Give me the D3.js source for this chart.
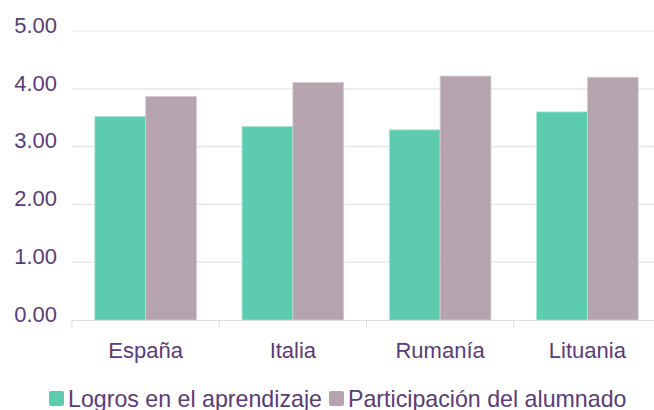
<!DOCTYPE html>
<html lang="es">
<head>
  <meta charset="utf-8">
  <script src="https://d3js.org/d3.v7.min.js"></script>
  <style>
    body { margin: 0; background: #fff; }
    text { font-family: "Liberation Sans", Arial, sans-serif; fill: #5a3c76; }
  </style>
</head>
<body>
<svg width="654" height="410"></svg>
<script>
  var paises = ["España", "Italia", "Rumanía", "Lituania"];
  var series = ["Logros en el aprendizaje", "Participación del alumnado"];
  var logros = [3.52, 3.35, 3.29, 3.60];
  var participacion = [3.87, 4.11, 4.22, 4.20];
  var yTicks = [0, 1, 2, 3, 4, 5];
  var colores = ["#5ccbb0", "#b5a4ad"];

  var svg = d3.select("svg");
  var mLeft = 72, mRight = 661, mTop = 31, mBottom = 320;

  var x = d3.scaleBand().domain(paises).range([mLeft, mRight]).paddingInner(0.31).paddingOuter(0.155);
  var x0 = d3.scaleBand().domain(paises).range([mLeft, mRight]);
  var xs = d3.scaleBand().domain(series).range([0, x.bandwidth()]);
  var y = d3.scaleLinear().domain([0, 5]).range([mBottom, mTop]);

  // grid
  svg.append("g").selectAll("line").data(yTicks.slice(1)).enter().append("line")
    .attr("x1", mLeft).attr("x2", 654)
    .attr("y1", function(d) { return y(d); }).attr("y2", function(d) { return y(d); })
    .attr("stroke", "#e5e3e6").attr("stroke-width", 1.2);

  // y labels
  svg.append("g").selectAll("text").data(yTicks).enter().append("text")
    .attr("x", 57).attr("y", function(d) { return y(d) - 4; })
    .attr("text-anchor", "end").attr("dominant-baseline", "middle")
    .style("font-size", "22px")
    .text(function(d) { return d3.format(".2f")(d); });

  // bars
  var g = svg.append("g").selectAll("g").data(paises).enter().append("g")
    .attr("transform", function(d) { return "translate(" + x(d) + ",0)"; });
  [logros, participacion].forEach(function(vals, s) {
    g.append("rect")
      .attr("x", xs(series[s]))
      .attr("width", xs.bandwidth())
      .attr("y", function(d, i) { return y(vals[i]); })
      .attr("height", function(d, i) { return mBottom - y(vals[i]); })
      .attr("fill", colores[s])
      .attr("stroke", s ? "#d6cbd1" : "#a9e4d5").attr("stroke-width", 0.8);
  });

  // x axis
  var ax = svg.append("g");
  ax.append("line").attr("x1", mLeft).attr("x2", 654).attr("y1", mBottom + 0.5).attr("y2", mBottom + 0.5)
    .attr("stroke", "#dedede");
  ax.selectAll("line.t").data(paises).enter().append("line").attr("class", "t")
    .attr("x1", function(d) { return x0(d); }).attr("x2", function(d) { return x0(d); })
    .attr("y1", mBottom).attr("y2", mBottom + 8).attr("stroke", "#dedede");
  ax.selectAll("text").data(paises).enter().append("text")
    .attr("x", function(d) { return x0(d) + x0.bandwidth() / 2; })
    .attr("y", 358).attr("text-anchor", "middle")
    .style("font-size", "22px")
    .text(function(d) { return d; });

  // legend
  var lx = [49, 329];
  var leg = svg.append("g").selectAll("g").data(series).enter().append("g")
    .attr("transform", function(d, i) { return "translate(" + lx[i] + ",391)"; });
  leg.append("rect").attr("width", 15).attr("height", 15).attr("rx", 2)
    .attr("fill", function(d, i) { return colores[i]; });
  leg.append("text").attr("x", 19).attr("y", 15.5)
    .style("font-size", "23.2px")
    .text(function(d) { return d; });
</script>
</body>
</html>
